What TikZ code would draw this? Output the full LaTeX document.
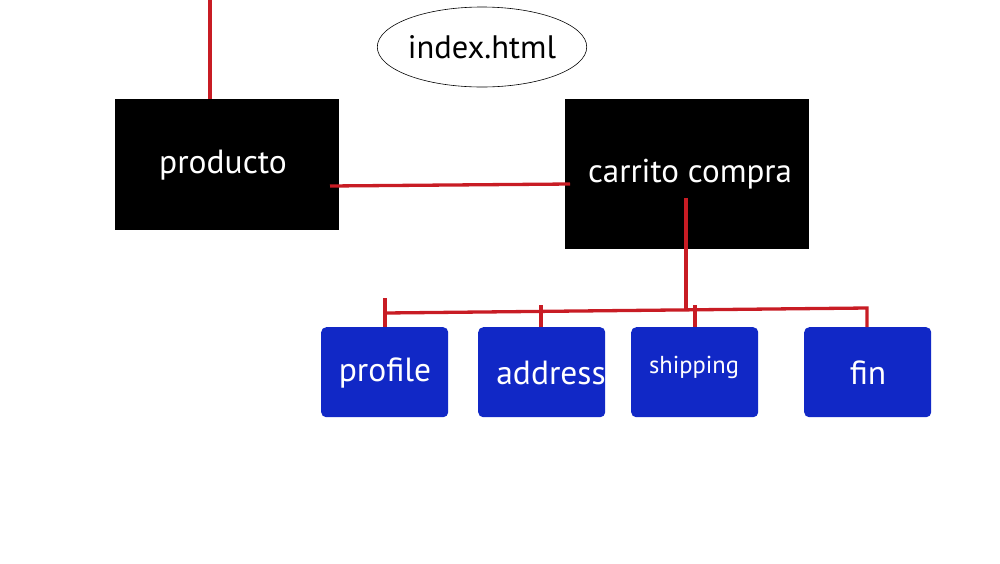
\documentclass[tikz,border=0pt]{standalone}
\usepackage{fontspec}
\setmainfont{PT Sans}
\usetikzlibrary{shapes.geometric}
\definecolor{linkred}{RGB}{200,28,36}
\definecolor{boxblue}{RGB}{17,40,198}
\tikzset{
  blackbox/.style={fill=black, draw=none, inner sep=0pt, anchor=north west},
  bluebox/.style={fill=boxblue, draw=none, rounded corners=5pt, minimum width=127pt, minimum height=90pt, inner sep=0pt, anchor=north west},
  wtext/.style={text=white, inner sep=0pt, font=\fontsize{33.5}{35}\selectfont},
  link/.style={draw=linkred, line width=3.3pt},
}
\begin{document}
\begin{tikzpicture}[x=1pt,y=-1pt]
\useasboundingbox (0,0) rectangle (1000,563);
% ellipse
\node[ellipse, draw=black, line width=0.6pt, minimum width=208pt, minimum height=80pt, inner sep=0pt, font=\fontsize{32.5}{34}\selectfont] (index) at (482,47) {index.html};
% black boxes
\node[blackbox, minimum width=224pt, minimum height=131pt] (producto) at (115,99) {};
\node[wtext] (productotxt) at (223,165) {producto};
\node[blackbox, minimum width=244pt, minimum height=150pt] (carrito) at (565,99) {};
\node[wtext, font=\fontsize{33}{35}\selectfont] (carritotxt) at (690,174) {carrito compra};
% blue boxes
\node[bluebox] (profile) at (321,327) {};
\node[wtext] (profiletxt) at (385,373) {profile};
\node[bluebox] (address) at (478,327) {};
\node[wtext] (addresstxt) at (551,373) {address};
\node[bluebox] (shipping) at (631,327) {};
\node[wtext, font=\fontsize{24.5}{26}\selectfont] (shippingtxt) at (694,367) {shipping};
\node[bluebox] (fin) at (804,327) {};
\node[wtext] (fintxt) at (868,373) {fin};
% connectors
\coordinate (top) at (210,0);
\draw[link] (top) -- (top |- producto.north);
\coordinate (pr) at (330,186);
\coordinate (cl) at (570,184);
\draw[link] (pr) -- (cl);
\coordinate (cdown) at (686,198);
\coordinate (bus) at (686,309);
\draw[link] (cdown) -- (bus);
\coordinate (busL) at (385,313);
\coordinate (busR) at (867,308);
\draw[link] (busL) -- (busR) -- (busR |- fin.north);
\draw[link] (385,298) -- (profile.north -| 385,0);
\draw[link] (541,305) -- (address.north -| 541,0);
\draw[link] (695,305) -- (shipping.north -| 695,0);
\end{tikzpicture}
\end{document}
